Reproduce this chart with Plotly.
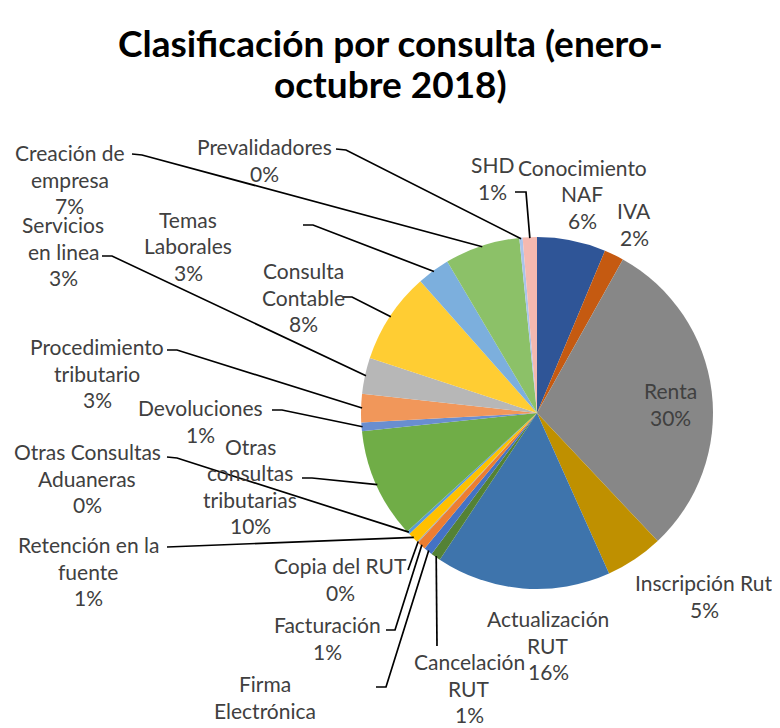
"""Pie chart: Clasificación por consulta (enero-octubre 2018)."""

import math

import plotly.graph_objects as go

# Data (clockwise from 12 o'clock)
categories = [
    "Conocimiento\nNAF",
    "IVA",
    "Renta",
    "Inscripción Rut",
    "Actualización\nRUT",
    "Cancelación\nRUT",
    "Firma\nElectrónica",
    "Facturación",
    "Copia del RUT",
    "Retención en la\nfuente",
    "Otras Consultas\nAduaneras",
    "Otras\nconsultas\ntributarias",
    "Devoluciones",
    "Procedimiento\ntributario",
    "Servicios\nen linea",
    "Consulta\nContable",
    "Temas\nLaborales",
    "Creación de\nempresa",
    "Prevalidadores",
    "SHD",
]
shares = [6.3, 1.8, 29.8, 5.3, 16.0, 0.9, 0.8, 0.8, 0.1, 1.0,
          0.3, 10.1, 0.8, 2.6, 3.3, 8.4, 3.0, 6.9, 0.3, 1.3]
colors = [
    "#2F5597", "#C55A11", "#878787", "#BF9000", "#3E74AC", "#548235",
    "#4472C4", "#ED7D31", "#A5A5A5", "#FFC000", "#5B9BD5", "#70AD47",
    "#698ED0", "#F1975A", "#B7B7B7", "#FFCD33", "#7CAFDD", "#8CC168",
    "#A9C4EB", "#F4B9B0",
]
title_lines = ["Clasificación por consulta (enero-", "octubre 2018)"]

# Layout helpers: positions below are screen pixels of the 780 x 728 page;
# the page body has an 8px margin, so the figure itself is 772 x 720.
PAGE_OFF = 8
W, H = 780 - PAGE_OFF, 728 - PAGE_OFF
CX, CY, R = 537, 413, 176

# label block centre (px) and leader start / elbow points (px)
label_pos = [
    (582, 194), (634, 224), (670, 404), (704, 596), (548, 645),
    (469, 688), (265, 710), (327, 638), (340, 579), (88, 571),
    (87, 478), (250, 486), (200, 421), (97, 373), (63, 251),
    (303, 297), (188, 246), (70, 179), (264, 160), (492, 178),
]
leaders = [
    None, None, None, None, None,
    [(437, 646)],
    [(376, 687), (386, 687)],
    [(386, 630), (395, 630)],
    [(408, 570)],
    [(167, 547)],
    [(167, 457), (177, 458)],
    [(302, 478), (312, 478)],
    [(272, 410), (282, 410)],
    [(167, 350), (177, 350)],
    [(102, 256), (112, 256)],
    [(343, 297), (352, 297)],
    [(303, 225), (313, 225)],
    [(132, 154), (142, 155)],
    [(336, 149), (346, 150)],
    [(515, 192), (526, 192)],
]
LINE_GAP = 26.5
TITLE_Y = [42, 84]


def px(x, y):
    return (x - PAGE_OFF) / W, 1 - (y - PAGE_OFF) / H


total = sum(shares)
x0, y1 = px(CX - R, CY - R)
x1, y0 = px(CX + R, CY + R)
fig = go.Figure(
    go.Pie(
        labels=[c.replace("\n", " ") for c in categories],
        values=shares,
        sort=False,
        direction="clockwise",
        rotation=0,
        textinfo="none",
        marker={"colors": colors, "line": {"width": 0}},
        domain={"x": [x0, x1], "y": [y0, y1]},
        hovertemplate="%{label}: %{percent}<extra></extra>",
        showlegend=False,
    )
)

annotations = []
shapes = []

# Title lines
for text, ty in zip(title_lines, TITLE_Y):
    x, y = px(390, ty)
    annotations.append({
        "x": x, "y": y, "xref": "paper", "yref": "paper",
        "text": f"<b>{text}</b>", "showarrow": False,
        "xanchor": "center", "yanchor": "middle",
        "font": {"family": "Lato", "size": 37, "color": "#000000"},
    })

cum = 0.0
for name, val, (lx, ly), lead in zip(categories, shares, label_pos, leaders):
    lines = name.split("\n") + [f"{round(val / total * 100)}%"]
    top = ly - LINE_GAP * (len(lines) - 1) / 2
    for i, line in enumerate(lines):
        x, y = px(lx, top + i * LINE_GAP)
        annotations.append({
            "x": x, "y": y, "xref": "paper", "yref": "paper",
            "text": line, "showarrow": False,
            "xanchor": "center", "yanchor": "middle",
            "font": {"family": "Lato", "size": 21, "color": "#404040"},
        })
    theta = 2 * math.pi * (cum + val / 2) / total
    cum += val
    if lead:
        ex = CX + (R - 1) * math.sin(theta)
        ey = CY - (R - 1) * math.cos(theta)
        pts = [px(*p) for p in lead] + [px(ex, ey)]
        path = "M " + " L ".join(f"{a:.5f},{b:.5f}" for a, b in pts)
        shapes.append({
            "type": "path", "path": path, "xref": "paper", "yref": "paper",
            "line": {"color": "#000000", "width": 1.7},
        })

fig.update_layout(
    width=W,
    height=H,
    margin={"l": 0, "r": 0, "t": 0, "b": 0},
    paper_bgcolor="white",
    plot_bgcolor="white",
    annotations=annotations,
    shapes=shapes,
)

fig.write_html("out.html")
